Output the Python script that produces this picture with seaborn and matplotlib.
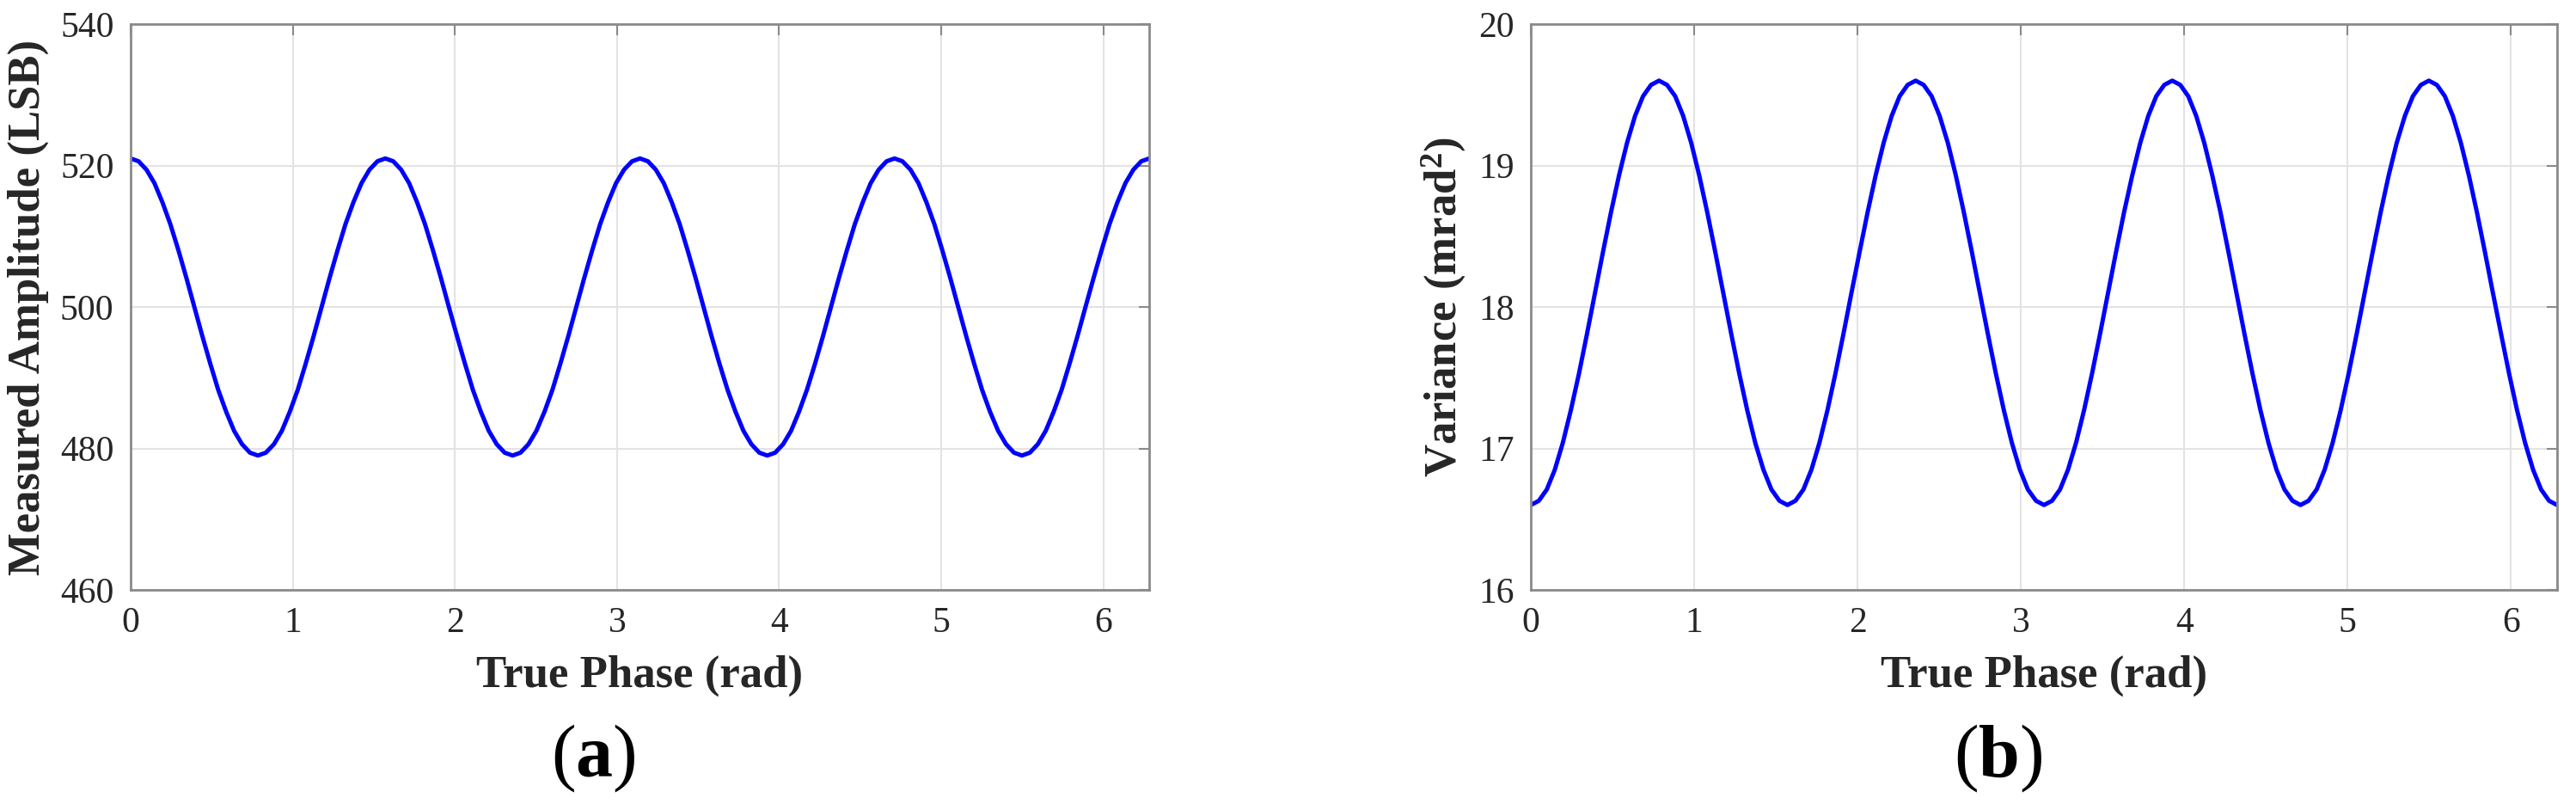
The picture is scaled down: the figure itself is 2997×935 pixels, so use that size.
import matplotlib
matplotlib.use("Agg")
import matplotlib.pyplot as plt
import seaborn as sns
import pandas as pd

# ---- data ----
phase = [0.000, 0.049, 0.098, 0.147, 0.196, 0.245, 0.295, 0.344, 0.393, 0.442,
         0.491, 0.540, 0.589, 0.638, 0.687, 0.736, 0.785, 0.834, 0.884, 0.933,
         0.982, 1.031, 1.080, 1.129, 1.178, 1.227, 1.276, 1.325, 1.374, 1.424,
         1.473, 1.522, 1.571, 1.620, 1.669, 1.718, 1.767, 1.816, 1.865, 1.914,
         1.963, 2.013, 2.062, 2.111, 2.160, 2.209, 2.258, 2.307, 2.356, 2.405,
         2.454, 2.503, 2.553, 2.602, 2.651, 2.700, 2.749, 2.798, 2.847, 2.896,
         2.945, 2.994, 3.043, 3.093, 3.142, 3.191, 3.240, 3.289, 3.338, 3.387,
         3.436, 3.485, 3.534, 3.583, 3.632, 3.682, 3.731, 3.780, 3.829, 3.878,
         3.927, 3.976, 4.025, 4.074, 4.123, 4.172, 4.222, 4.271, 4.320, 4.369,
         4.418, 4.467, 4.516, 4.565, 4.614, 4.663, 4.712, 4.761, 4.811, 4.860,
         4.909, 4.958, 5.007, 5.056, 5.105, 5.154, 5.203, 5.252, 5.301, 5.351,
         5.400, 5.449, 5.498, 5.547, 5.596, 5.645, 5.694, 5.743, 5.792, 5.841,
         5.890, 5.940, 5.989, 6.038, 6.087, 6.136, 6.185, 6.234, 6.283]

amplitude = [521.0, 520.6, 519.4, 517.5, 514.8, 511.7, 508.0, 504.1, 500.0, 495.9,
             492.0, 488.3, 485.2, 482.5, 480.6, 479.4, 479.0, 479.4, 480.6, 482.5,
             485.2, 488.3, 492.0, 495.9, 500.0, 504.1, 508.0, 511.7, 514.8, 517.5,
             519.4, 520.6,
             521.0, 520.6, 519.4, 517.5, 514.8, 511.7, 508.0, 504.1, 500.0, 495.9,
             492.0, 488.3, 485.2, 482.5, 480.6, 479.4, 479.0, 479.4, 480.6, 482.5,
             485.2, 488.3, 492.0, 495.9, 500.0, 504.1, 508.0, 511.7, 514.8, 517.5,
             519.4, 520.6,
             521.0, 520.6, 519.4, 517.5, 514.8, 511.7, 508.0, 504.1, 500.0, 495.9,
             492.0, 488.3, 485.2, 482.5, 480.6, 479.4, 479.0, 479.4, 480.6, 482.5,
             485.2, 488.3, 492.0, 495.9, 500.0, 504.1, 508.0, 511.7, 514.8, 517.5,
             519.4, 520.6,
             521.0, 520.6, 519.4, 517.5, 514.8, 511.7, 508.0, 504.1, 500.0, 495.9,
             492.0, 488.3, 485.2, 482.5, 480.6, 479.4, 479.0, 479.4, 480.6, 482.5,
             485.2, 488.3, 492.0, 495.9, 500.0, 504.1, 508.0, 511.7, 514.8, 517.5,
             519.4, 520.6,
             521.0]

variance = [16.60, 16.63, 16.71, 16.85, 17.04, 17.27, 17.53, 17.81, 18.10, 18.39,
            18.67, 18.93, 19.16, 19.35, 19.49, 19.57, 19.60, 19.57, 19.49, 19.35,
            19.16, 18.93, 18.67, 18.39, 18.10, 17.81, 17.53, 17.27, 17.04, 16.85,
            16.71, 16.63,
            16.60, 16.63, 16.71, 16.85, 17.04, 17.27, 17.53, 17.81, 18.10, 18.39,
            18.67, 18.93, 19.16, 19.35, 19.49, 19.57, 19.60, 19.57, 19.49, 19.35,
            19.16, 18.93, 18.67, 18.39, 18.10, 17.81, 17.53, 17.27, 17.04, 16.85,
            16.71, 16.63,
            16.60, 16.63, 16.71, 16.85, 17.04, 17.27, 17.53, 17.81, 18.10, 18.39,
            18.67, 18.93, 19.16, 19.35, 19.49, 19.57, 19.60, 19.57, 19.49, 19.35,
            19.16, 18.93, 18.67, 18.39, 18.10, 17.81, 17.53, 17.27, 17.04, 16.85,
            16.71, 16.63,
            16.60, 16.63, 16.71, 16.85, 17.04, 17.27, 17.53, 17.81, 18.10, 18.39,
            18.67, 18.93, 19.16, 19.35, 19.49, 19.57, 19.60, 19.57, 19.49, 19.35,
            19.16, 18.93, 18.67, 18.39, 18.10, 17.81, 17.53, 17.27, 17.04, 16.85,
            16.71, 16.63,
            16.60]

x_ticks = [0, 1, 2, 3, 4, 5, 6]
amp_ticks = [460, 480, 500, 520, 540]
var_ticks = [16, 17, 18, 19, 20]

x_label = "True Phase (rad)"
amp_label = "Measured Amplitude (LSB)"
var_label = "Variance (mrad$^\\mathbf{2}$)"
panel_tags = ["a", "b"]

# ---- styling ----
sns.set_theme(style="white")
plt.rcParams["font.family"] = ["Liberation Serif", "DejaVu Serif"]
plt.rcParams["mathtext.fontset"] = "custom"
plt.rcParams["mathtext.rm"] = "Liberation Serif"
plt.rcParams["mathtext.bf"] = "Liberation Serif:bold"
plt.rcParams["mathtext.it"] = "Liberation Serif:italic"

W, H = 2997, 935
fig = plt.figure(figsize=(W / 100, H / 100), dpi=100)

top_px, bot_px = 28, 686
axes_boxes = [(152, 1337), (1781, 2975)]
ylabel_x = [33, 1680]
tag_x = [690, 2325]

df = pd.DataFrame({"phase": phase, "amplitude": amplitude, "variance": variance})
series = [("amplitude", amp_ticks, amp_label), ("variance", var_ticks, var_label)]

spine_col = "#8a8a8a"
text_col = "#262626"

for i, ((l, r), (col, yt, ylab)) in enumerate(zip(axes_boxes, series)):
    ax = fig.add_axes([l / W, 1 - bot_px / H, (r - l) / W, (bot_px - top_px) / H])
    sns.lineplot(data=df, x="phase", y=col, ax=ax, color="#0000ff", linewidth=3.6)
    ax.set_xlim(0, 6.283)
    ax.set_ylim(yt[0], yt[-1])
    ax.set_xticks(x_ticks)
    ax.set_yticks(yt)
    ax.grid(True, color="#e3e3e3", linewidth=1.5)
    ax.set_axisbelow(True)
    for s in ax.spines.values():
        s.set_visible(True)
        s.set_color(spine_col)
        s.set_linewidth(2.0)
    ax.tick_params(direction="in", top=True, right=True, length=9, width=1.5,
                   color=spine_col, labelcolor=text_col, labelsize=30, pad=14)
    ax.set_xlabel(x_label, fontsize=38, fontweight="bold", color=text_col, va="center")
    ax.xaxis.set_label_coords(0.5, (bot_px - 786) / (bot_px - top_px))
    ax.set_ylabel(ylab, fontsize=38, fontweight="bold", color=text_col, va="center")
    ax.yaxis.set_label_coords((ylabel_x[i] - l) / (r - l), 0.5)
    fig.text(tag_x[i] / W, 1 - 882 / H, "(" + "$\\mathbf{" + panel_tags[i] + "}$" + ")",
             fontsize=62, ha="center", va="center", color="black")

fig.savefig("out.png", dpi=100, facecolor="white")
